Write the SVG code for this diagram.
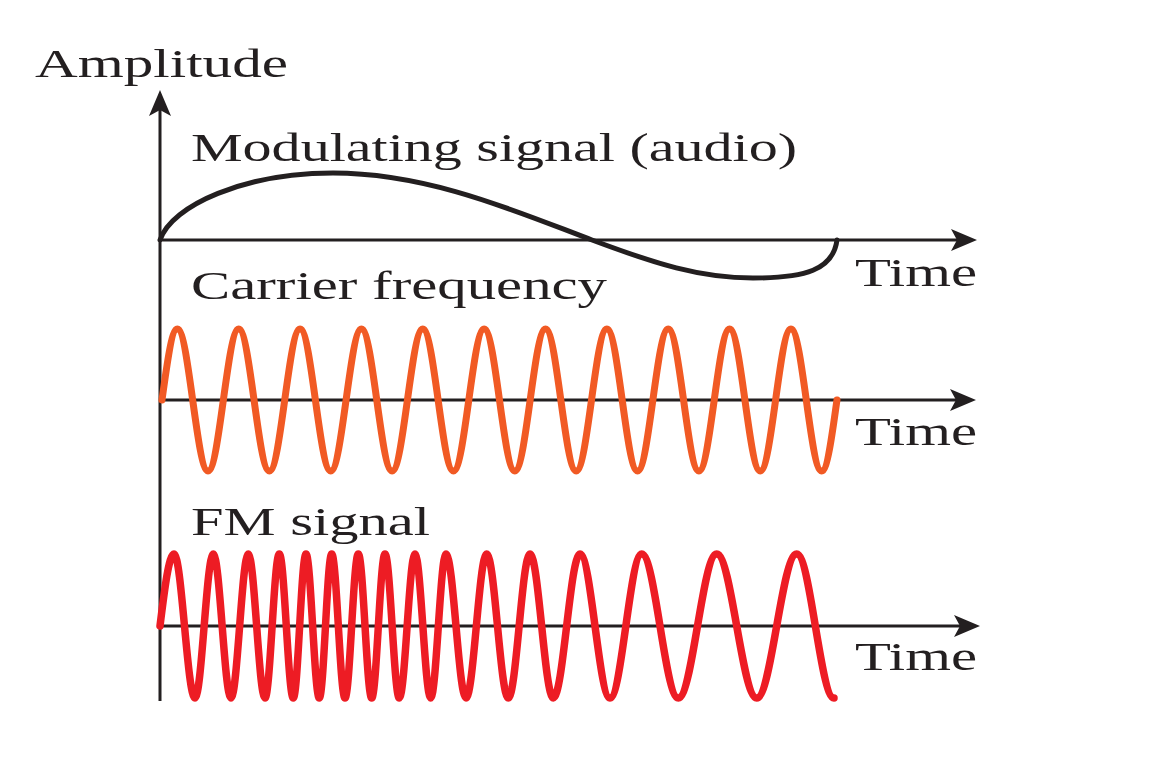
<svg xmlns="http://www.w3.org/2000/svg" width="1162" height="772" viewBox="0 0 1162 772">
<style>
.lbl{font-family:"Liberation Serif","Times New Roman",serif;font-size:40px;fill:#231f20}
.axis{stroke:#231f20;stroke-width:3;fill:none}
.wave{fill:none;stroke-linecap:round;stroke-linejoin:round}
</style>
<defs>
<marker id="arr" viewBox="-10 -12 30 24" markerWidth="30" markerHeight="24" refX="0" refY="0" orient="auto" markerUnits="userSpaceOnUse">
<path d="M18,0 L-8,-11 L-2,0 L-8,11 Z" fill="#231f20"/>
</marker>
</defs>
<rect width="1162" height="772" fill="#ffffff"/>
<g id="axes">
<line class="axis" x1="160" y1="701" x2="160" y2="108" marker-end="url(#arr)" stroke-width="3.5"/>
<line class="axis" x1="160" y1="240" x2="959" y2="240" marker-end="url(#arr)"/>
<line class="axis" x1="160" y1="400" x2="958" y2="400" marker-end="url(#arr)"/>
<line class="axis" x1="160" y1="626" x2="962" y2="626" marker-end="url(#arr)"/>
</g>
<g id="modulating-signal">
<path class="wave" stroke="#231f20" stroke-width="5" d="M160,240 C172,205 245,173 333,173 C430,173 520,213 592,240 C655,263.6 700,278 753,278 C805,278 833,270 837,240"/>
</g>
<g id="carrier-signal">
<path class="wave" stroke="#f15a24" stroke-width="7" d="M162,400 c5,-36.37 9.79,-71 15.34,-71 c11.15,0 19.53,142 30.68,142 s19.53,-142 30.68,-142 s19.53,142 30.68,142 s19.53,-142 30.68,-142 s19.53,142 30.68,142 s19.53,-142 30.68,-142 s19.53,142 30.68,142 s19.53,-142 30.68,-142 s19.53,142 30.68,142 s19.53,-142 30.68,-142 s19.53,142 30.68,142 s19.53,-142 30.68,-142 s19.53,142 30.68,142 s19.53,-142 30.68,-142 s19.53,142 30.68,142 s19.53,-142 30.68,-142 s19.53,142 30.68,142 s19.53,-142 30.68,-142 s19.53,142 30.68,142 s19.53,-142 30.68,-142 s19.53,142 30.68,142 c5.55,0 10.34,-34.63 15.34,-71"/>
</g>
<g id="fm-signal">
<path class="wave" stroke="#ed1c24" stroke-width="7.5" d="M160,626 C164.57,589.1 168.93,554 174,554 C181.63,554 187.37,698 195,698 C201.65,698 206.65,554 213.3,554 C219.73,554 224.57,698 231,698 C237.29,698 242.01,554 248.3,554 C254.37,554 258.93,698 265,698 C270.2,698 274.1,554 279.3,554 C284.39,554 288.21,698 293.3,698 C297.92,698 301.38,554 306,554 C310.83,554 314.47,698 319.3,698 C323.81,698 327.19,554 331.7,554 C336.53,554 340.17,698 345,698 C349.83,698 353.47,554 358.3,554 C363.17,554 366.83,698 371.7,698 C376.53,698 380.17,554 385,554 C390.2,554 394.1,698 399.3,698 C405.01,698 409.29,554 415,554 C420.71,554 424.99,698 430.7,698 C436.26,698 440.44,554 446,554 C453.27,554 458.73,698 466,698 C473.52,698 479.18,554 486.7,554 C494.55,554 500.45,698 508.3,698 C516.19,698 522.11,554 530,554 C538.47,554 544.83,698 553.3,698 C563,698 570.3,554 580,554 C590.9,554 599.1,698 610,698 C621.52,698 630.18,554 641.7,554 C655,554 665,698 678.3,698 C692.25,698 702.75,554 716.7,554 C731.24,554 742.16,698 756.7,698 C771.24,698 782.16,554 796.7,554 C810.25,554 820.45,698 834,698"/>
</g>
<g id="labels">
<text class="lbl" x="35" y="77" textLength="253" lengthAdjust="spacingAndGlyphs">Amplitude</text>
<text class="lbl" x="191" y="161" textLength="606" lengthAdjust="spacingAndGlyphs">Modulating signal (audio)</text>
<text class="lbl" x="191" y="299" textLength="416" lengthAdjust="spacingAndGlyphs">Carrier frequency</text>
<text class="lbl" x="191" y="535" textLength="239" lengthAdjust="spacingAndGlyphs">FM signal</text>
<text class="lbl" x="855" y="286" textLength="122" lengthAdjust="spacingAndGlyphs">Time</text>
<text class="lbl" x="855" y="445" textLength="122" lengthAdjust="spacingAndGlyphs">Time</text>
<text class="lbl" x="855" y="670" textLength="122" lengthAdjust="spacingAndGlyphs">Time</text>
</g>
</svg>
